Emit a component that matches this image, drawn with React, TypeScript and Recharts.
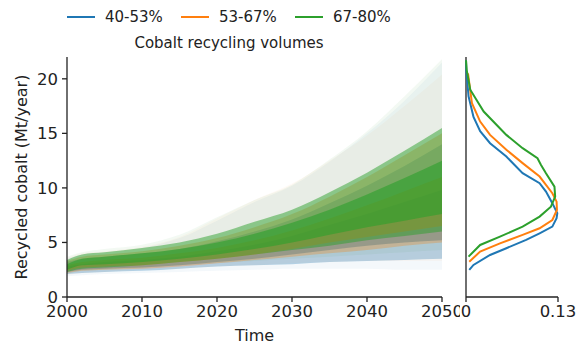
import { ComposedChart, Area, XAxis, YAxis, ScatterChart, Scatter } from "recharts";

// years sampled along the spaghetti envelope
const years = [2000, 2002, 2005, 2010, 2015, 2020, 2025, 2030, 2035, 2040, 2045, 2050];

// per year: [min, q05, q25, q75, q95, max] of the simulated runs (Mt/year)
const blueRuns = [
  [1.9, 2.1, 2.3, 2.8, 3.2, 3.5],
  [2.0, 2.2, 2.5, 3.0, 3.5, 3.9],
  [2.1, 2.3, 2.6, 3.2, 3.7, 4.1],
  [2.2, 2.4, 2.7, 3.4, 4.0, 4.5],
  [2.3, 2.6, 2.9, 3.7, 4.4, 5.4],
  [2.4, 2.8, 3.2, 4.2, 5.1, 7.0],
  [2.5, 2.9, 3.5, 4.8, 6.0, 8.7],
  [2.6, 3.0, 3.9, 5.6, 7.1, 10.2],
  [2.6, 3.2, 4.3, 6.6, 8.6, 12.4],
  [2.6, 3.3, 4.7, 7.6, 10.2, 15.0],
  [2.5, 3.4, 5.0, 8.7, 12.0, 18.0],
  [2.5, 3.5, 5.2, 9.8, 14.0, 21.5],
];
const orangeRuns = [
  [2.0, 2.2, 2.4, 2.9, 3.3, 3.6],
  [2.2, 2.4, 2.7, 3.2, 3.7, 4.0],
  [2.3, 2.5, 2.8, 3.4, 3.9, 4.2],
  [2.5, 2.6, 2.9, 3.6, 4.2, 4.6],
  [2.6, 2.8, 3.2, 4.0, 4.7, 5.5],
  [2.8, 3.1, 3.5, 4.5, 5.4, 7.2],
  [2.9, 3.4, 3.9, 5.2, 6.4, 8.9],
  [3.1, 3.7, 4.4, 6.1, 7.6, 10.4],
  [3.2, 4.0, 5.0, 7.2, 9.2, 12.5],
  [3.3, 4.3, 5.5, 8.4, 11.0, 14.8],
  [3.3, 4.7, 6.0, 9.7, 13.0, 17.5],
  [3.3, 5.0, 6.5, 11.0, 15.0, 20.4],
];
const greenRuns = [
  [2.1, 2.3, 2.5, 3.0, 3.4, 3.7],
  [2.4, 2.6, 2.9, 3.5, 3.9, 4.1],
  [2.5, 2.7, 3.0, 3.7, 4.1, 4.4],
  [2.7, 2.9, 3.2, 4.0, 4.5, 4.8],
  [2.9, 3.2, 3.5, 4.4, 5.0, 5.7],
  [3.1, 3.5, 3.9, 5.0, 5.8, 7.3],
  [3.3, 3.9, 4.4, 5.8, 6.9, 8.9],
  [3.5, 4.3, 5.0, 6.8, 8.0, 10.3],
  [3.7, 4.7, 5.7, 8.0, 9.6, 12.6],
  [3.9, 5.2, 6.4, 9.4, 11.4, 15.2],
  [4.1, 5.6, 7.0, 10.9, 13.4, 18.4],
  [4.3, 6.0, 7.6, 12.5, 15.5, 21.8],
];

// density of 2050 values: [value, density]
const blueDensity = [
  [2.48, 0.0046], [2.94, 0.0106], [3.85, 0.034], [4.47, 0.057], [5.23, 0.085],
  [5.84, 0.104], [6.45, 0.122], [7.22, 0.128], [7.68, 0.129], [8.6, 0.122],
  [9.66, 0.113], [10.43, 0.104], [11.35, 0.08], [12.87, 0.057], [14.1, 0.034],
  [15.2, 0.02], [16.5, 0.0106], [18.4, 0.0036], [20.8, 0.0004], [21.7, 0],
];
const orangeDensity = [
  [3.24, 0.0046], [4.16, 0.02], [4.92, 0.048], [5.69, 0.08], [6.3, 0.104],
  [7.06, 0.122], [7.98, 0.1285], [8.74, 0.128], [9.51, 0.122], [11.04, 0.104],
  [12.27, 0.08], [13.5, 0.057], [14.86, 0.034], [16.08, 0.02], [17.77, 0.0084],
  [20.5, 0.0028],
];
const greenDensity = [
  [3.7, 0.0036], [4.77, 0.02], [5.53, 0.048], [6.45, 0.08], [7.37, 0.104],
  [8.28, 0.12], [9.2, 0.126], [10.12, 0.125], [11.35, 0.113], [12.11, 0.106],
  [12.72, 0.101], [13.64, 0.08], [14.86, 0.057], [17.0, 0.025], [19.0, 0.006],
  [20.8, 0.001], [21.7, 0],
];

const legendItems = ["40-53%", "53-67%", "67-80%"];
const colors = ["#1f77b4", "#ff7f0e", "#2ca02c"];
const xTicks = [2000, 2010, 2020, 2030, 2040, 2050];
const yTicks = [0, 5, 10, 15, 20];

const groups = [
  { key: "b", runs: blueRuns, color: colors[0], op: [0.05, 0.3, 0.45] },
  { key: "o", runs: orangeRuns, color: colors[1], op: [0.04, 0.3, 0.45] },
  { key: "g", runs: greenRuns, color: colors[2], op: [0.06, 0.5, 0.6] },
];

const data = years.map((year, i) => {
  const row: any = { year };
  groups.forEach((g) => {
    const r = g.runs[i];
    row[g.key + "Out"] = [r[0], r[5]];
    row[g.key + "Mid"] = [r[1], r[4]];
    row[g.key + "Core"] = [r[2], r[3]];
  });
  return row;
});

const toPts = (arr: number[][]) => arr.map(([v, d]) => ({ v, d }));

const font = "'DejaVu Sans', sans-serif";
const ink = "#222";
const tickStyle = { fill: ink, fontSize: 16.5, fontFamily: font };
const axisLine = { stroke: ink, strokeWidth: 1.3 };
const tickLine = { stroke: ink, strokeWidth: 1.3 };

export default function App() {
  return (
    <div style={{ position: "absolute", left: 0, top: 0, width: 581, height: 346, background: "#fff", fontFamily: font, color: ink }}>
      {/* legend */}
      {legendItems.map((t, i) => (
        <div key={t} style={{ position: "absolute", top: 8, left: 67 + i * 114, display: "flex", alignItems: "center", fontSize: 15 }}>
          <span style={{ display: "inline-block", width: 28, height: 2.5, background: colors[i], marginRight: 10 }} />
          <span>{t}</span>
        </div>
      ))}
      <div style={{ position: "absolute", top: 34, left: 0, width: 458, textAlign: "center", fontSize: 15 }}>
        Cobalt recycling volumes
      </div>
      <div style={{ position: "absolute", left: 21, top: 177, transform: "translate(-50%, -50%) rotate(-90deg)", whiteSpace: "nowrap", fontSize: 16 }}>
        Recycled cobalt (Mt/year)
      </div>
      <div style={{ position: "absolute", left: 67, width: 375, top: 326, textAlign: "center", fontSize: 16 }}>Time</div>

      <div style={{ position: "absolute", left: 0, top: 0 }}>
        <ComposedChart width={460} height={346} data={data} margin={{ top: 57, right: 18, bottom: 0, left: 0 }}>
          <XAxis dataKey="year" type="number" domain={[2000, 2050]} ticks={xTicks} height={49}
            tick={tickStyle} axisLine={axisLine} tickLine={tickLine} tickSize={5} tickMargin={3} />
          <YAxis type="number" domain={[0, 22]} ticks={yTicks} width={67} allowDataOverflow
            tick={tickStyle} axisLine={axisLine} tickLine={tickLine} tickSize={5} tickMargin={4} />
          {groups.map((g) => [
            <Area key={g.key + "Out"} dataKey={g.key + "Out"} type="monotone" stroke="none" fill={g.color} fillOpacity={g.op[0]} isAnimationActive={false} />,
            <Area key={g.key + "Mid"} dataKey={g.key + "Mid"} type="monotone" stroke="none" fill={g.color} fillOpacity={g.op[1]} isAnimationActive={false} />,
            <Area key={g.key + "Core"} dataKey={g.key + "Core"} type="monotone" stroke="none" fill={g.color} fillOpacity={g.op[2]} isAnimationActive={false} />,
          ])}
        </ComposedChart>
      </div>

      <div style={{ position: "absolute", left: 440, top: 0 }}>
        <ScatterChart width={141} height={346} margin={{ top: 57, right: 23, bottom: 0, left: 0 }}>
          <XAxis dataKey="d" type="number" domain={[0, 0.13]} ticks={[0, 0.13]} height={49}
            tick={tickStyle} axisLine={axisLine} tickLine={tickLine} tickSize={5} tickMargin={3} />
          <YAxis dataKey="v" type="number" domain={[0, 22]} ticks={yTicks} width={26} tick={false}
            axisLine={axisLine} tickLine={tickLine} tickSize={5} />
          {[blueDensity, orangeDensity, greenDensity].map((arr, i) => (
            <Scatter key={i} data={toPts(arr)} line={{ stroke: colors[i], strokeWidth: 2 }}
              shape={() => <g />} isAnimationActive={false} />
          ))}
        </ScatterChart>
      </div>
    </div>
  );
}
